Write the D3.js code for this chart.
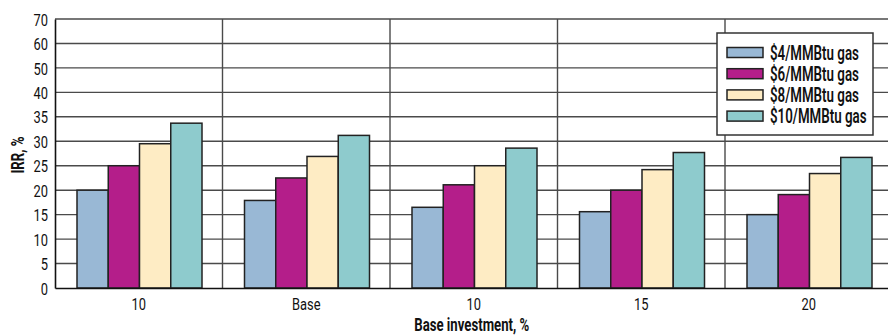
<!DOCTYPE html>
<html>
<head>
<meta charset="utf-8">
<script src="https://cdn.jsdelivr.net/npm/d3@7"></script>
<style>
  html, body { margin: 0; padding: 0; background: #fff; }
  svg { display: block; }
  text { font-family: Roboto, "Noto Sans", sans-serif; fill: #111; }
</style>
</head>
<body>
<svg id="chart" width="888" height="336"></svg>
<script>
// Investment scenarios along the x axis ("10" appears twice, so bands are keyed by index)
const categories = ["10", "Base", "10", "15", "20"];
const seriesNames = ["$4/MMBtu gas", "$6/MMBtu gas", "$8/MMBtu gas", "$10/MMBtu gas"];
const seriesColors = ["#99b8d5", "#b41e8a", "#feecc4", "#8ecbcd"];
// IRR, % per scenario for each gas price
const gas4 = [20.0, 17.9, 16.5, 15.6, 15.0];
const gas6 = [25.0, 22.5, 21.1, 20.0, 19.1];
const gas8 = [29.5, 26.9, 25.0, 24.2, 23.4];
const gas10 = [33.7, 31.2, 28.6, 27.7, 26.7];
const yTicks = [0, 5, 10, 15, 20, 25, 30, 35, 40, 50, 60, 70];

const series = [gas4, gas6, gas8, gas10];

const svg = d3.select("#chart");
const plotLeft = 55, plotRight = 892.5, plotTop = 19, plotBottom = 288;

// Condensed look: measure a sample string at the given style, then squeeze every
// label of the selection horizontally by the ratio that brings the sample to the wanted width.
function condense(sel, sample, width) {
  const probe = svg.append("text").text(sample)
    .attr("font-size", sel.attr("font-size")).attr("font-weight", sel.attr("font-weight"));
  const factor = width / probe.node().getComputedTextLength();
  probe.remove();
  sel.each(function () {
    const t = d3.select(this);
    const tx = +t.attr("x") || 0, ty = +t.attr("y") || 0;
    const prev = t.attr("transform") || "";
    t.attr("x", 0).attr("y", 0)
      .attr("transform", `${prev} translate(${tx},${ty}) scale(${factor},1)`);
  });
}

// Broken-step value axis: 0–40 in steps of 5, then 40–70 in steps of 10, equal spacing
const y = d3.scaleLinear().domain([0, 40, 70])
  .range([plotBottom, plotBottom - 8 * (plotBottom - plotTop) / 11, plotTop]);
const x = d3.scaleBand().domain(d3.range(categories.length)).range([plotLeft, plotRight]);
const xs = d3.scaleBand().domain(d3.range(series.length)).range([22, x.bandwidth() - 20.5]);

// Horizontal grid lines
svg.append("g").selectAll("line").data(yTicks.filter(d => d > 0)).join("line")
  .attr("x1", plotLeft).attr("x2", plotRight)
  .attr("y1", d => y(d)).attr("y2", d => y(d))
  .attr("stroke", "#4a4a4a").attr("stroke-width", 1.4);

// Vertical separators between scenarios
svg.append("g").selectAll("line").data(d3.range(1, categories.length)).join("line")
  .attr("x1", d => x(d)).attr("x2", d => x(d))
  .attr("y1", plotTop).attr("y2", plotBottom)
  .attr("stroke", "#4a4a4a").attr("stroke-width", 1.4);

// Bars
const groups = svg.append("g").selectAll("g").data(categories.map((c, i) => i)).join("g")
  .attr("transform", i => `translate(${x(i)},0)`);
groups.selectAll("rect").data(i => series.map((s, k) => ({ k, v: s[i] }))).join("rect")
  .attr("x", d => xs(d.k))
  .attr("width", xs.bandwidth())
  .attr("y", d => y(d.v))
  .attr("height", d => y(0) - y(d.v))
  .attr("fill", d => seriesColors[d.k])
  .attr("stroke", "#222")
  .attr("stroke-width", 1.5);

// Axes
const yAxis = d3.axisLeft(y).tickValues(yTicks).tickSize(0).tickPadding(7);
const gy = svg.append("g").attr("transform", `translate(${plotLeft},0)`).call(yAxis)
  .attr("font-family", null).attr("font-size", null);
gy.select(".domain").attr("stroke", "#111").attr("stroke-width", 1.6);
gy.selectAll("text").attr("font-size", 17).attr("fill", "#111").attr("dy", "0.36em")
  .call(condense, "70", 14.5);

const xAxis = d3.axisBottom(x).tickFormat(i => categories[i]).tickSize(0).tickPadding(10);
const gx = svg.append("g").attr("transform", `translate(0,${plotBottom})`).call(xAxis)
  .attr("font-family", null).attr("font-size", null);
gx.select(".domain").attr("stroke", "#111").attr("stroke-width", 1.6);
gx.selectAll("text").attr("font-size", 17).attr("fill", "#111")
  .call(condense, "70", 14.5);

// Axis titles
svg.append("text")
  .attr("transform", `translate(24,155) rotate(-90)`)
  .attr("text-anchor", "middle")
  .attr("font-size", 18).attr("font-weight", "bold")
  .text("IRR, %").call(condense, "IRR, %", 37);
svg.append("text")
  .attr("x", (plotLeft + plotRight) / 2 - 2).attr("y", 331)
  .attr("text-anchor", "middle")
  .attr("font-size", 18).attr("font-weight", "bold")
  .text("Base investment, %").call(condense, "Base investment, %", 115);

// Legend
const legend = svg.append("g").attr("transform", "translate(717,33)");
legend.append("rect").attr("width", 156).attr("height", 102)
  .attr("fill", "#fff").attr("stroke", "#333").attr("stroke-width", 1.5);
const items = legend.selectAll("g.item").data(seriesNames).join("g")
  .attr("class", "item")
  .attr("transform", (d, i) => `translate(10,${19.5 + i * 21.2})`);
items.append("rect").attr("x", 0).attr("y", -5).attr("width", 36).attr("height", 10)
  .attr("fill", (d, i) => seriesColors[i]).attr("stroke", "#222").attr("stroke-width", 1.5);
items.append("text").attr("x", 43).attr("y", 7)
  .attr("font-size", 19.5).attr("font-weight", 600)
  .text(d => d);
items.selectAll("text").call(condense, "$4/MMBtu gas", 89);
</script>
</body>
</html>
